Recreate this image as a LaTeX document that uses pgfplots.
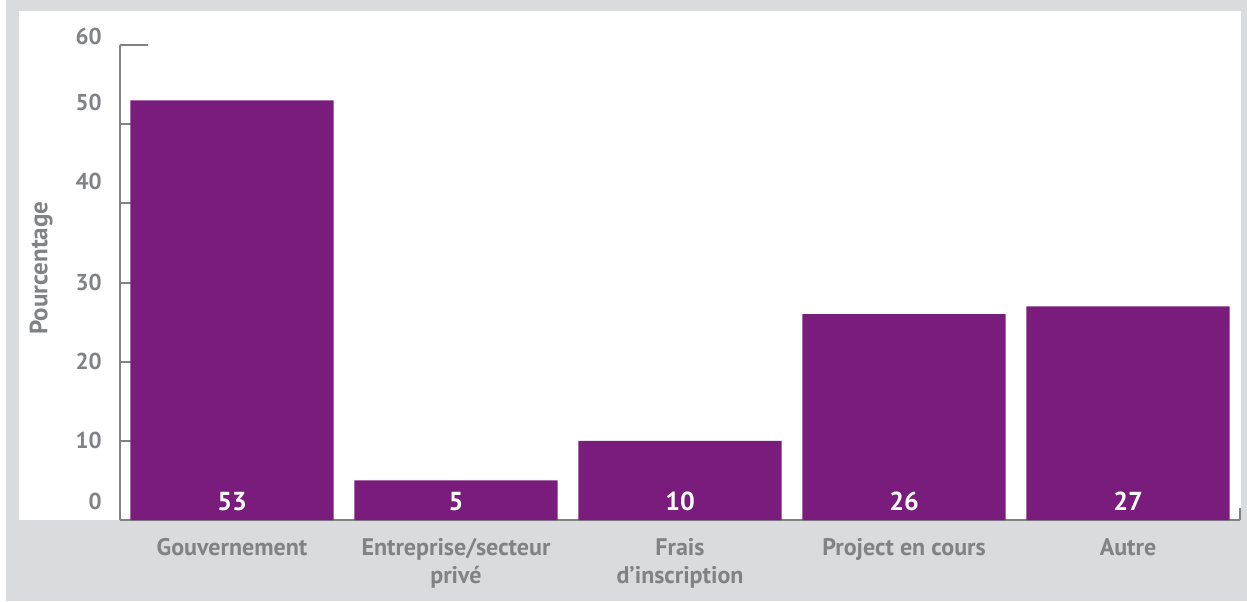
\documentclass[border=0pt]{standalone}
\usepackage{pgfplots}
\pgfplotsset{compat=1.18}
\usepackage{pgfplotstable}
\usepackage{fontspec}
\setmainfont{PT Sans}
\definecolor{bgray}{HTML}{DADBDD}
\definecolor{tgray}{HTML}{808285}
\definecolor{barpurple}{HTML}{791C7B}
\pgfplotstableread{
x y
0 53
1 5
2 10
3 26
4 27
}\data
\begin{document}
\begin{tikzpicture}
\path[use as bounding box] (0,0) rectangle (623.5pt,300.5pt);
\fill[bgray] (3pt,0) rectangle (623.5pt,300.5pt);
\fill[white] (9.5pt,40.5pt) rectangle (620.5pt,295pt);
\begin{axis}[
  at={(60pt,40.5pt)}, anchor=south west,
  scale only axis, width=560pt, height=237.5pt,
  xmin=-0.5, xmax=4.5, ymin=0, ymax=60,
  axis x line*=bottom, axis y line*=left,
  axis line style={tgray, line width=1pt, -},
  every outer x axis line/.append style={-},
  every outer y axis line/.append style={-},
  ytick={0,10,...,60}, yticklabels={},
  ytick style={tgray, line width=1pt},
  tick align=inside, major tick length=14pt,
  extra y ticks={2.3,10,20,30,42.8,52.8},
  extra y tick labels={0,10,20,30,40,50},
  extra y tick style={major tick length=0pt, tick style={draw=none}},
  yticklabel style={anchor=east, inner sep=0pt, xshift=-9pt, text=tgray, font=\fontsize{11.5}{13}\selectfont\bfseries},
  xtick={0,1,2,3,4},
  xticklabels={Gouvernement,{Entreprise/secteur\\privé},{Frais\\d’inscription},Project en cours,Autre},
  x tick style={draw=none},
  xticklabel style={anchor=north, inner sep=0pt, yshift=-9pt, align=center, text=tgray, font=\fontsize{12}{14}\selectfont\bfseries},
  ylabel={Pourcentage},
  ylabel style={at={(axis description cs:-0.0705,0.53)}, anchor=center, rotate=0, text=tgray, font=\fontsize{12.5}{14}\selectfont\bfseries},
  /pgf/number format/assume math mode=true,
  clip=false,
]
\addplot[ybar, bar width=0.908, fill=barpurple, draw=none,
  visualization depends on=y \as \rawy,
  nodes near coords,
  every node near coord/.append style={shift={(axis direction cs:0,-\rawy)}, anchor=base, yshift=5pt, text=white, font=\fontsize{13}{15}\selectfont\bfseries}
] table[x=x,y=y] {\data};
\draw[tgray, line width=1pt] (rel axis cs:1,0) -- ++(0pt,6pt);
\node[anchor=east, inner sep=0pt, text=tgray, font=\fontsize{11.5}{13}\selectfont\bfseries] at ([xshift=-9pt,yshift=4.3pt]rel axis cs:0,1) {60};
\end{axis}
\end{tikzpicture}
\end{document}
